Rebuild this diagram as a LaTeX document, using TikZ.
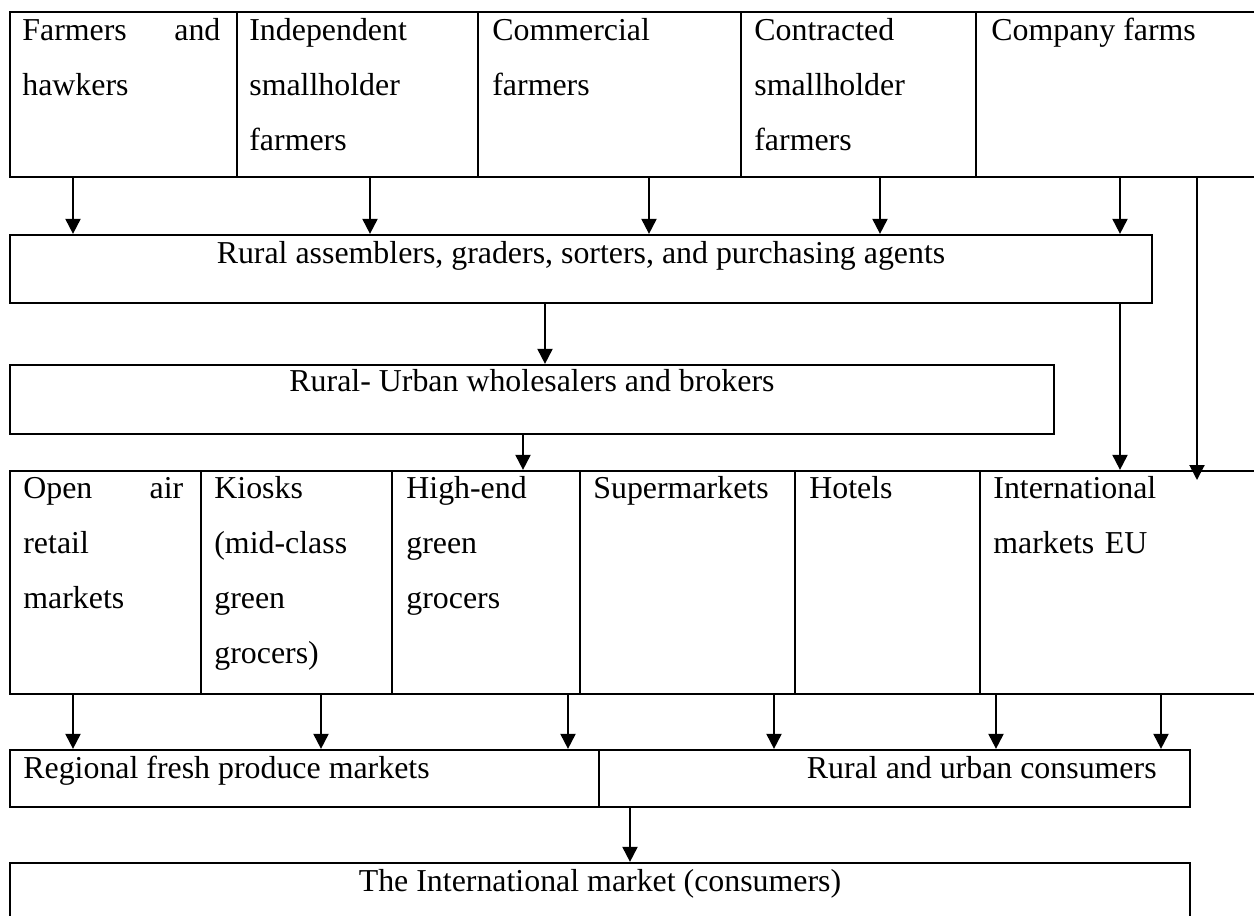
\documentclass[tikz,border=0pt]{standalone}
\usepackage{fontspec}
\setmainfont{Liberation Serif}
\usetikzlibrary{arrows.meta,fit}

\tikzset{
    box/.style={draw, line width=0.9pt, inner sep=0pt},
    ltxt/.style={font=\fontsize{12.75}{22}\selectfont, inner sep=0pt, anchor=base west},
    txt/.style={ltxt, text width=68pt, align=left},
    arr/.style={line width=0.8pt, -{Triangle[width=6pt,length=6pt]}}
}

\begin{document}
\begin{tikzpicture}[x=0.4pt, y=-0.4pt]
    \useasboundingbox (0,0) rectangle (1254,915);

    % producers
    \node[box, fit={(10,12)(237,177)}] (farm) {};
    \node[box, fit={(237,12)(478,177)}] (indep) {};
    \node[box, fit={(478,12)(741,177)}] (comm) {};
    \node[box, fit={(741,12)(976,177)}] (contr) {};
    \node[box, fit={(976,12)(1264,177)}] (comp) {};

    \node[txt, text width=79.2pt] (farm-t) at ([shift={(13,30)}]farm.north west) {Farmers \hfill and\\hawkers};
    \node[txt] (indep-t) at ([shift={(13,30)}]indep.north west) {Independent\\smallholder\\farmers};
    \node[txt] (comm-t) at ([shift={(15,30)}]comm.north west) {Commercial\\farmers};
    \node[txt] (contr-t) at ([shift={(14,30)}]contr.north west) {Contracted\\smallholder\\farmers};
    \node[ltxt] (comp-t) at ([shift={(16,30)}]comp.north west) {Company farms};

    % traders
    \node[box, fit={(10,235)(1152,303)}] (rural) {};
    \node[ltxt, anchor=base] (rural-t) at ([yshift=-12pt]rural.north) {Rural assemblers, graders, sorters, and purchasing agents};
    \node[box, fit={(10,365)(1054,434)}] (ruw) {};
    \node[ltxt, anchor=base] (ruw-t) at ([yshift=-11.2pt]ruw.north) {Rural- Urban wholesalers and brokers};

    % retail outlets
    \node[box, fit={(10,471)(201,694)}] (open) {};
    \node[box, fit={(201,471)(392,694)}] (kiosk) {};
    \node[box, fit={(392,471)(580,694)}] (high) {};
    \node[box, fit={(580,471)(795,694)}] (super) {};
    \node[box, fit={(795,471)(980,694)}] (hotel) {};
    \node[box, fit={(980,471)(1264,694)}] (intm) {};

    \node[txt, text width=64pt] (open-t) at ([shift={(14,29)}]open.north west) {Open \hfill air\\retail\\markets};
    \node[txt] (kiosk-t) at ([shift={(14,29)}]kiosk.north west) {Kiosks\\(mid-class\\green\\grocers)};
    \node[txt] (high-t) at ([shift={(15,29)}]high.north west) {High-end\\green\\grocers};
    \node[ltxt] (super-t) at ([shift={(14,29)}]super.north west) {Supermarkets};
    \node[ltxt] (hotel-t) at ([shift={(15,29)}]hotel.north west) {Hotels};
    \node[txt] (intm-t) at ([shift={(14,29)}]intm.north west) {International\\markets EU};

    % consumers
    \node[box, fit={(10,750)(599,807)}] (reg) {};
    \node[box, fit={(599,750)(1190,807)}] (cons) {};
    \node[box, fit={(10,863)(1190,930)}] (intl) {};

    \node[ltxt] (reg-t) at ([shift={(14,30)}]reg.north west) {Regional fresh produce markets};
    \node[ltxt, anchor=base east] (cons-t) at ([shift={(-34,30)}]cons.north east) {Rural and urban consumers};
    \node[ltxt, anchor=base] (intl-t) at ([yshift=-12pt]intl.north) {The International market (consumers)};

    \coordinate (eu-end) at (1197,480);

    \foreach \x/\s in {73/farm, 370/indep, 649/comm, 880/contr, 1120/comp}
        \draw[arr] (\s.south -| \x,0) -- (rural.north -| \x,0);
    \draw[arr] (comp.south -| 1197,0) -- (eu-end);
    \draw[arr] (rural.south -| 545,0) -- (ruw.north -| 545,0);
    \draw[arr] (rural.south -| 1120,0) -- (intm.north -| 1120,0);
    \draw[arr] (ruw.south -| 523,0) -- (high.north -| 523,0);

    \foreach \x/\s/\t in {73/open/reg, 321/kiosk/reg, 568/high/reg, 774/super/cons, 996/intm/cons, 1161/intm/cons}
        \draw[arr] (\s.south -| \x,0) -- (\t.north -| \x,0);
    \draw[arr] (cons.south -| 630,0) -- (intl.north -| 630,0);
\end{tikzpicture}
\end{document}
